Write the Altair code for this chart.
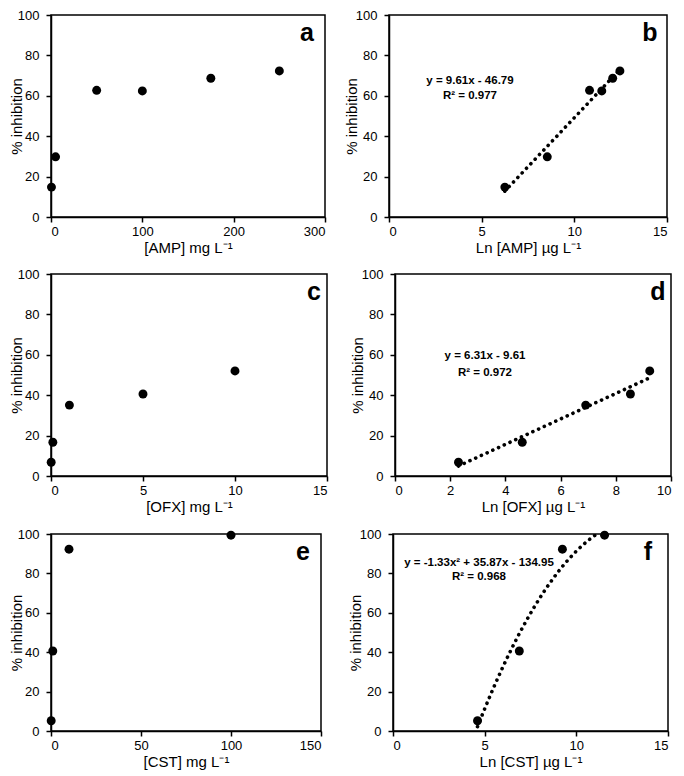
import altair as alt
import pandas as pd

FONT = "Liberation Sans"

# ---- data ----
amp_mg = [0.5, 5, 50, 100, 175, 250]
amp_ln = [6.25, 8.54, 10.82, 11.48, 12.07, 12.46]
amp_inh = [14.8, 29.8, 62.7, 62.4, 68.7, 72.3]

ofx_mg = [0.01, 0.1, 1, 5, 10]
ofx_ln = [2.30, 4.61, 6.91, 8.53, 9.23]
ofx_inh = [6.8, 16.7, 35.1, 40.6, 52.0]

cst_mg = [0.1, 1, 10, 100]
cst_ln = [4.61, 6.89, 9.24, 11.54]
cst_inh = [5.2, 40.6, 92.3, 99.4]

y_ticks = [0, 20, 40, 60, 80, 100]
eq_b = ["y = 9.61x - 46.79", "R² = 0.977"]
eq_d = ["y = 6.31x - 9.61", "R² = 0.972"]
eq_f = ["y = -1.33x² + 35.87x - 134.95", "R² = 0.968"]


def panel(xs, ys, xdomain, xticks, xtitle, letter, w, h, letter_dx, ytpad,
          fit=None, eq=None, eq_x=0, eq_y=(0, 0)):
    df = pd.DataFrame({"x": xs, "y": ys})
    base = alt.Chart(df)
    xenc = alt.X("x:Q",
                 scale=alt.Scale(domain=xdomain, nice=False, zero=False),
                 axis=alt.Axis(values=xticks, tickCount=12, title=xtitle,
                               format="d", labelOverlap=False, labelBound=False,
                               labelPadding=3, titlePadding=2))
    yenc = alt.Y("y:Q",
                 scale=alt.Scale(domain=[0, 100], nice=False),
                 axis=alt.Axis(values=y_ticks, tickCount=12,
                               title="% inhibition", labelFlush=False,
                               labelOverlap=False, labelBound=False,
                               labelPadding=7, titlePadding=ytpad))
    layers = []
    if fit is not None:
        if fit == "poly":
            reg = base.transform_regression("x", "y", method="poly", order=2)
        else:
            reg = base.transform_regression("x", "y", method="linear")
        line = reg.mark_line(color="black", strokeDash=[0.1, 6.2],
                             strokeWidth=3.6, strokeCap="round",
                             clip=True).encode(x="x:Q", y="y:Q")
        layers.append(line)
    pts = base.mark_circle(size=80, color="black", opacity=1).encode(x=xenc, y=yenc)
    layers.append(pts)
    lab = alt.Chart(pd.DataFrame({"t": [letter]})).mark_text(
        font=FONT, fontSize=25, fontWeight="bold", color="black",
        align="center", baseline="alphabetic").encode(
        text="t:N", x=alt.value(w - letter_dx), y=alt.value(26))
    layers.append(lab)
    if eq is not None:
        for i, txt in enumerate(eq):
            t = alt.Chart(pd.DataFrame({"t": [txt]})).mark_text(
                font=FONT, fontSize=11.5, fontWeight="bold", color="black",
                align="center", baseline="middle").encode(
                text="t:N", x=alt.value(eq_x), y=alt.value(eq_y[i]))
            layers.append(t)
    return alt.layer(*layers).properties(width=w, height=h)


a = panel(amp_mg, amp_inh, [0, 300], [0, 100, 200, 300], "[AMP] mg L⁻¹", "a",
          274, 202, 18, -7)
b = panel(amp_ln, amp_inh, [0, 15], [0, 5, 10, 15], "Ln [AMP] µg L⁻¹", "b",
          278, 202, 17, -4, fit="linear", eq=eq_b, eq_x=81, eq_y=(66, 81))
c = panel(ofx_mg, ofx_inh, [0, 15], [0, 5, 10, 15], "[OFX] mg L⁻¹", "c",
          276, 202, 13, -7)
d = panel(ofx_ln, ofx_inh, [0, 10], [0, 2, 4, 6, 8, 10], "Ln [OFX] µg L⁻¹", "d",
          276, 202, 13, -4, fit="linear", eq=eq_d, eq_x=90, eq_y=(82, 99))
e = panel(cst_mg, cst_inh, [0, 150], [0, 50, 100, 150], "[CST] mg L⁻¹", "e",
          270, 197, 18, -7)
f = panel(cst_ln, cst_inh, [0, 15], [0, 5, 10, 15], "Ln [CST] µg L⁻¹", "f",
          275, 197, 20, -4, fit="poly", eq=eq_f, eq_x=86, eq_y=(29, 43))

row1 = alt.hconcat(a, b, spacing=16)
row2 = alt.hconcat(c, d, spacing=20)
row3 = alt.hconcat(e, f, spacing=24)

chart = alt.vconcat(
    alt.vconcat(row1, row2, spacing=11), row3, spacing=12
).properties(
    padding={"left": 0, "top": 0, "right": 0, "bottom": 0}
).configure_view(
    stroke="black", strokeWidth=1.5
).configure_axis(
    grid=False, labelOverlap=False,
    domainColor="black", domainWidth=1.5,
    tickColor="black", tickWidth=1.5, tickSize=5,
    labelFont=FONT, labelFontSize=13, labelColor="black",
    titleFont=FONT, titleFontSize=15, titleFontWeight="normal",
    titleColor="black",
)

chart.save("out.html", embed_options={"renderer": "svg", "actions": False})
